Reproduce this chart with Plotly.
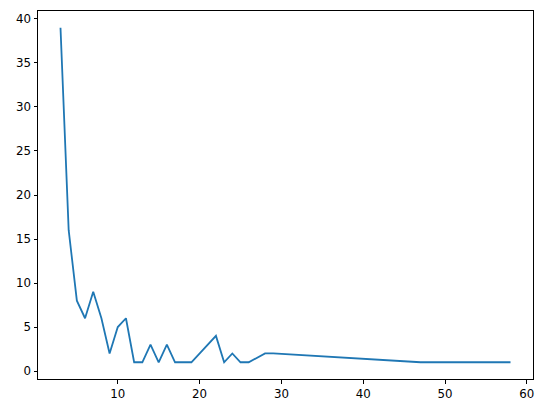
import plotly.graph_objects as go

x_vals = [3, 4, 5, 6, 7, 8, 9, 10, 11, 12, 13, 14, 15, 16, 17, 18, 19, 22, 23, 24, 25, 26, 28, 29, 47, 58]
y_vals = [39, 16, 8, 6, 9, 6, 2, 5, 6, 1, 1, 3, 1, 3, 1, 1, 1, 4, 1, 2, 1, 1, 2, 2, 1, 1]

x_ticks = [10, 20, 30, 40, 50, 60]
y_ticks = [0, 5, 10, 15, 20, 25, 30, 35, 40]

fig = go.Figure()
fig.add_trace(go.Scatter(x=x_vals, y=y_vals, mode="lines",
                         line=dict(color="#1f77b4", width=1.8)))

# page body has an 8px default margin, so the figure is shrunk by that much
fig.update_layout(
    width=538, height=405,
    margin=dict(l=29.5, r=13.3, t=2.5, b=33.5),
    plot_bgcolor="white", paper_bgcolor="white",
    showlegend=False,
    font=dict(family="DejaVu Sans", size=11.8, color="black"),
)
fig.update_xaxes(range=[0.25, 60.75], tickvals=x_ticks, showgrid=False, zeroline=False,
                 showline=True, linecolor="black", linewidth=1, mirror=True,
                 ticks="outside", ticklen=3.5, tickcolor="black")
fig.update_yaxes(range=[-0.9, 40.9], tickvals=y_ticks, showgrid=False, zeroline=False,
                 showline=True, linecolor="black", linewidth=1, mirror=True,
                 ticks="outside", ticklen=3.5, tickcolor="black")

fig.write_html("out.html")
